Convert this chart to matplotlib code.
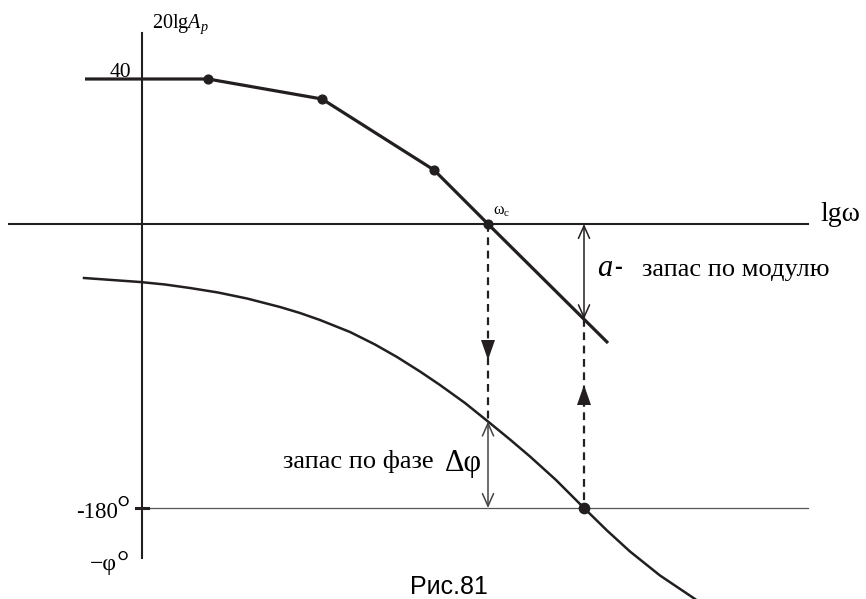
import numpy as np
import matplotlib.pyplot as plt

plt.rcParams['font.family'] = ['Liberation Serif', 'DejaVu Serif']
plt.rcParams['mathtext.fontset'] = 'custom'
plt.rcParams['mathtext.rm'] = 'Liberation Serif'
plt.rcParams['mathtext.it'] = 'Liberation Serif:italic'

# all values in picture units (x to the right, y downwards)
# asymptotic magnitude plot 20lgA(w)
lamp_x = [85, 208, 322, 434, 488, 608]
lamp_y = [79, 79, 99, 170, 224, 343]
# phase plot
phase_x = [84, 112, 140, 165, 190, 218, 247, 280, 300, 320, 350, 375, 397,
           420, 440, 465, 488, 510, 530, 556, 584, 607, 630, 660, 695]
phase_y = [278, 280, 282, 284.5, 288, 292.5, 298.5, 307, 313, 320, 332, 344.5,
           357, 371.5, 385, 403, 421.5, 439.5, 456.5, 480, 508, 530.5, 551.5,
           575.5, 599]

axis_x = 142           # ordinate axis
axis_top, axis_bottom = 33, 558
lgw_y = 224            # lgw axis (0 dB)
lgw_left, lgw_right = 9, 808
m180_y = 508           # -180 deg line
omega_c = 488          # crossover frequency
omega_180 = 584        # phase crossover frequency

INK = '#231f20'

fig = plt.figure(figsize=(8.66, 5.99), dpi=100)
ax = fig.add_axes([0, 0, 1, 1])
ax.set_xlim(0, 866)
ax.set_ylim(599, 0)
ax.axis('off')

# axes
ax.plot([axis_x, axis_x], [axis_top, axis_bottom], color=INK, lw=1.5, zorder=2)
ax.plot([lgw_left, lgw_right], [lgw_y, lgw_y], color=INK, lw=1.5, zorder=2)
ax.plot([axis_x, lgw_right], [m180_y, m180_y], color='#555555', lw=0.9, zorder=1)
ax.plot([axis_x - 6, axis_x + 6], [m180_y, m180_y], color=INK, lw=2.2, zorder=2)

# magnitude
ax.plot(lamp_x, lamp_y, color=INK, lw=2.3, zorder=3, solid_capstyle='butt')
ax.scatter(lamp_x[1:5], lamp_y[1:5], s=40, color=INK, zorder=4)

# phase
ax.plot(phase_x, phase_y, color=INK, lw=1.8, zorder=3)
ax.scatter([omega_180], [m180_y], s=55, color=INK, zorder=4)

phase_at_c = np.interp(omega_c, phase_x, phase_y)
lamp_at_180 = np.interp(omega_180, lamp_x, lamp_y)

# dashed projections
ax.plot([omega_c, omega_c], [lgw_y, phase_at_c], color=INK, lw=1.6,
        ls=(0, (3.5, 2.5)), zorder=2)
ax.plot([omega_180, omega_180], [lamp_at_180, m180_y], color=INK, lw=1.6,
        ls=(0, (3.5, 2.5)), zorder=2)
filled = dict(arrowstyle='-|>,head_length=0.8,head_width=0.28', color=INK,
              lw=0, mutation_scale=18, shrinkA=0, shrinkB=0)
ax.annotate('', xy=(omega_c, 360), xytext=(omega_c, 330), arrowprops=filled)
ax.annotate('', xy=(omega_180, 385), xytext=(omega_180, 415), arrowprops=filled)

# margins
ax.annotate('', xy=(omega_180, lgw_y), xytext=(omega_180, lamp_at_180),
            arrowprops=dict(arrowstyle='<->,head_length=0.9,head_width=0.4',
                            color=INK, lw=1.1, shrinkA=0, shrinkB=0))
ax.annotate('', xy=(omega_c, phase_at_c), xytext=(omega_c, m180_y),
            arrowprops=dict(arrowstyle='<->,head_length=0.9,head_width=0.4',
                            color='#444444', lw=1.1, shrinkA=0, shrinkB=0))

# labels
ax.text(152, 28, r'$\mathrm{20lg}A_p$', fontsize=14.5, ha='left', va='baseline')
ax.text(131, 77, '40', fontsize=15.5, ha='right', va='baseline')
ax.text(820, 221, 'lgω', fontsize=20, ha='left', va='baseline')
ax.text(493, 215, r'$\mathrm{\omega}_\mathrm{c}$', fontsize=11.5, ha='left', va='baseline')
ax.text(597, 276, r'$a$', fontsize=22, ha='left', va='baseline')
ax.text(614, 274, '-', fontsize=17, ha='left', va='baseline',
        family=['Liberation Sans'], weight='bold')
ax.text(642, 276, 'запас по модулю', fontsize=19, ha='left', va='baseline')
ax.text(283, 468, 'запас по фазе', fontsize=19, ha='left', va='baseline')
ax.text(445, 471, 'Δφ', fontsize=22, ha='left', va='baseline')
ax.text(76, 518, '-180', fontsize=16.5, ha='left', va='baseline')
ax.text(116, 519, '°', fontsize=24, ha='left', va='baseline')
ax.text(90, 570, '−φ', fontsize=17, ha='left', va='baseline')
ax.text(116, 572, '°', fontsize=22, ha='left', va='baseline')
ax.text(410, 594, 'Рис.81', fontsize=18, ha='left', va='baseline',
        family=['Liberation Sans'])

fig.savefig('out.png', dpi=100)
